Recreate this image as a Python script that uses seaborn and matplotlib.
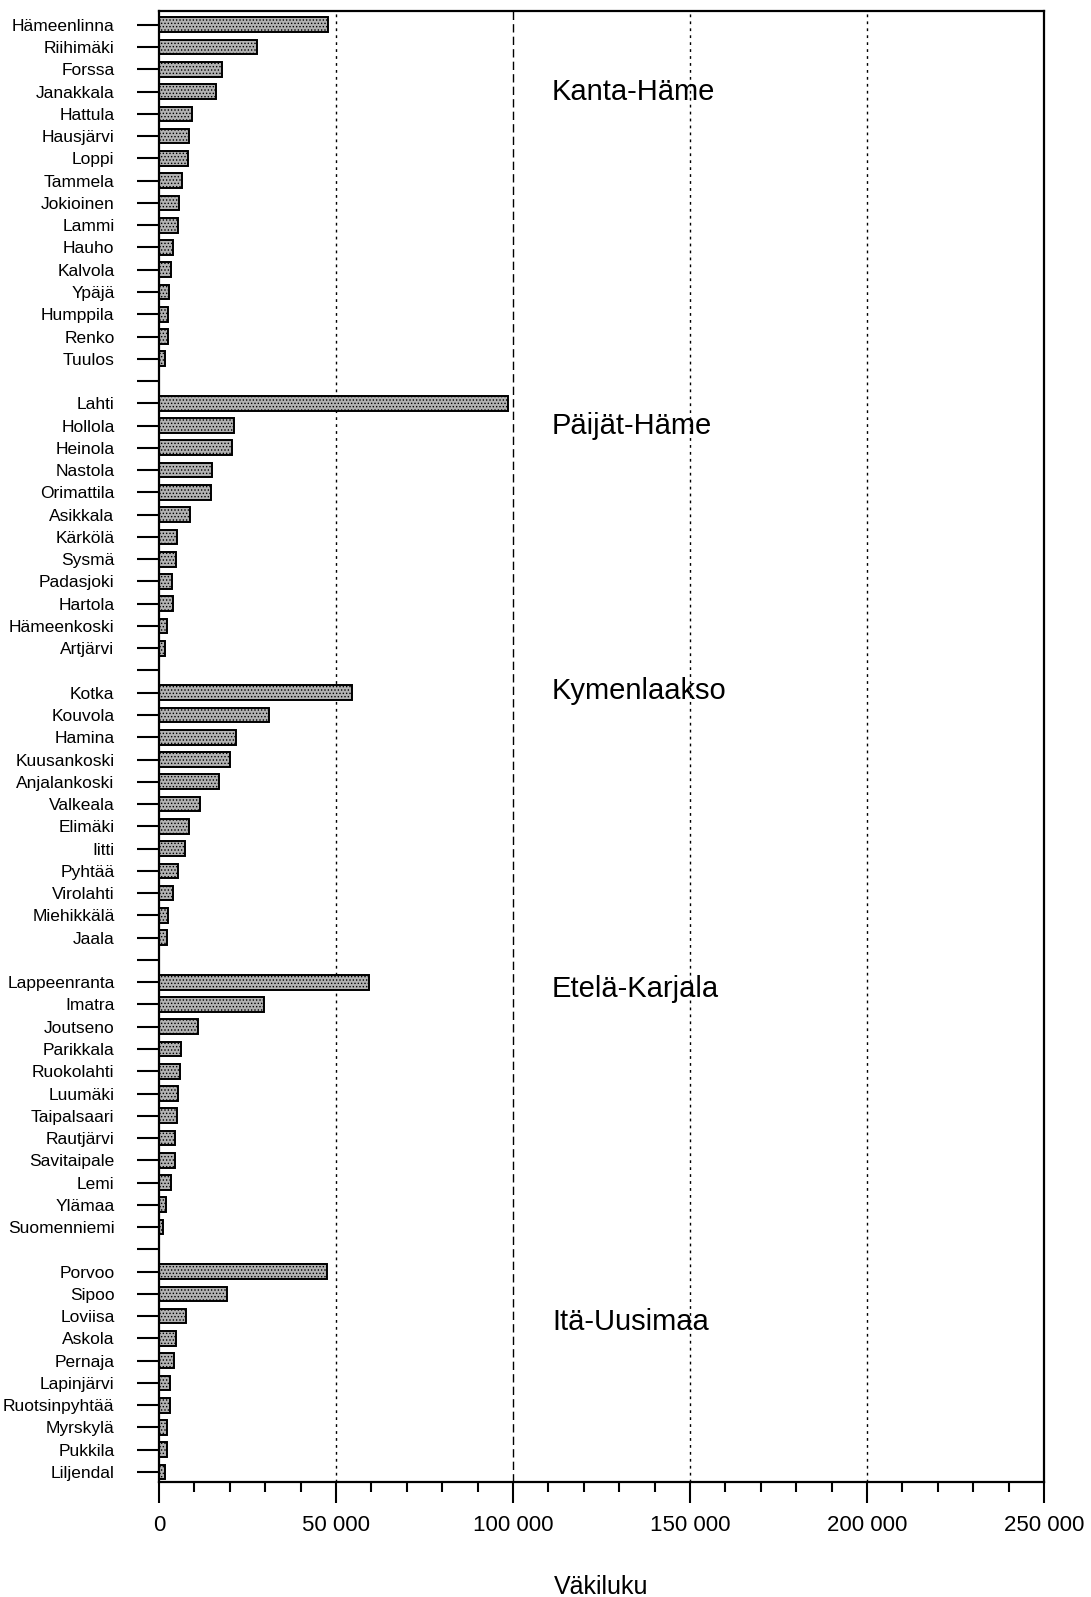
import numpy as np
import pandas as pd
import matplotlib
matplotlib.use("Agg")
import matplotlib.pyplot as plt
from matplotlib.ticker import FuncFormatter, MultipleLocator
import seaborn as sns

# -----------------------------
# Data
# -----------------------------
regions = ["Kanta-Häme", "Päijät-Häme", "Kymenlaakso", "Etelä-Karjala", "Itä-Uusimaa"]

kanta_hame = ["Hämeenlinna", "Riihimäki", "Forssa", "Janakkala", "Hattula", "Hausjärvi",
              "Loppi", "Tammela", "Jokioinen", "Lammi", "Hauho", "Kalvola", "Ypäjä",
              "Humppila", "Renko", "Tuulos"]
kanta_hame_pop = [47800, 27600, 17700, 16000, 9400, 8500, 8100, 6600, 5600, 5500,
                  4000, 3400, 2700, 2600, 2500, 1700]

paijat_hame = ["Lahti", "Hollola", "Heinola", "Nastola", "Orimattila", "Asikkala",
               "Kärkölä", "Sysmä", "Padasjoki", "Hartola", "Hämeenkoski", "Artjärvi"]
paijat_hame_pop = [98500, 21300, 20600, 14900, 14700, 8800, 5100, 4800, 3700, 3900,
                   2300, 1700]

kymenlaakso = ["Kotka", "Kouvola", "Hamina", "Kuusankoski", "Anjalankoski", "Valkeala",
               "Elimäki", "Iitti", "Pyhtää", "Virolahti", "Miehikkälä", "Jaala"]
kymenlaakso_pop = [54600, 31000, 21900, 20200, 16900, 11600, 8500, 7400, 5400, 3900,
                   2600, 2200]

etela_karjala = ["Lappeenranta", "Imatra", "Joutseno", "Parikkala", "Ruokolahti",
                 "Luumäki", "Taipalsaari", "Rautjärvi", "Savitaipale", "Lemi", "Ylämaa",
                 "Suomenniemi"]
etela_karjala_pop = [59300, 29700, 11000, 6200, 6000, 5500, 5200, 4500, 4400, 3300,
                     1900, 1100]

ita_uusimaa = ["Porvoo", "Sipoo", "Loviisa", "Askola", "Pernaja", "Lapinjärvi",
               "Ruotsinpyhtää", "Myrskylä", "Pukkila", "Liljendal"]
ita_uusimaa_pop = [47600, 19300, 7500, 4900, 4200, 3200, 3200, 2400, 2400, 1800]

x_ticks = [0, 50000, 100000, 150000, 200000, 250000]

# Build one table, with an empty row between the regions
groups = [(kanta_hame, kanta_hame_pop), (paijat_hame, paijat_hame_pop),
          (kymenlaakso, kymenlaakso_pop), (etela_karjala, etela_karjala_pop),
          (ita_uusimaa, ita_uusimaa_pop)]
names, pops, label_rows = [], [], []
for i, (n, p) in enumerate(groups):
    label_rows.append(len(names))
    names += n
    pops += p
    if i < len(groups) - 1:
        names.append(" " * (i + 1))   # blank separator row
        pops.append(np.nan)
df = pd.DataFrame({"kunta": names, "vakiluku": pops})

# -----------------------------
# Plot
# -----------------------------
sns.set_style("white")
plt.rcParams["font.family"] = ["Liberation Sans", "DejaVu Sans"]
plt.rcParams["text.color"] = "black"
plt.rcParams["axes.labelcolor"] = "black"
plt.rcParams["xtick.color"] = "black"
plt.rcParams["ytick.color"] = "black"
plt.rcParams["hatch.linewidth"] = 0.6

fig = plt.figure(figsize=(10.91, 15.97), dpi=100)
ax = fig.add_axes([0.1457, 0.0720, 0.8112, 0.9211])

# grid lines behind the bars
for xv in x_ticks[1:-1]:
    ax.axvline(xv, color="black", lw=1.0, zorder=0,
               ls=(0, (6, 3)) if xv == 100000 else (0, (2, 3)))

sns.barplot(data=df, x="vakiluku", y="kunta", order=names, orient="h",
            color="#b2b2b2", edgecolor="black", linewidth=1.4, hatch=".....",
            width=0.66, errorbar=None, saturation=1, ax=ax, zorder=2)

# region names
label_offsets = [3.0, 1.0, -0.1, 0.3, 2.25]
for reg, r0, off in zip(regions, label_rows, label_offsets):
    ax.text(111000, r0 + off, reg, fontsize=21, va="center", ha="left", zorder=3)

ax.set_xlim(0, 250000)
ax.set_ylim(65.45, -0.62)
ax.set_xticks(x_ticks)
ax.xaxis.set_minor_locator(MultipleLocator(10000))
ax.xaxis.set_major_formatter(FuncFormatter(lambda v, p: f"{int(v):,}".replace(",", " ")))
ax.set_ylabel("")
ax.set_xlabel("Väkiluku", fontsize=18, labelpad=28)

ax.tick_params(axis="y", which="major", length=16, width=1.5, pad=16,
               labelsize=12.5, direction="out", left=True)
ax.tick_params(axis="x", which="major", length=15, width=1.5, pad=9,
               labelsize=16, direction="out", bottom=True)
ax.tick_params(axis="x", which="minor", length=7.5, width=1.5,
               direction="out", bottom=True)

for s in ax.spines.values():
    s.set_visible(True)
    s.set_color("black")
    s.set_linewidth(1.6)

plt.savefig("out.png", dpi=100)
plt.close()
print("Saved out.png")
